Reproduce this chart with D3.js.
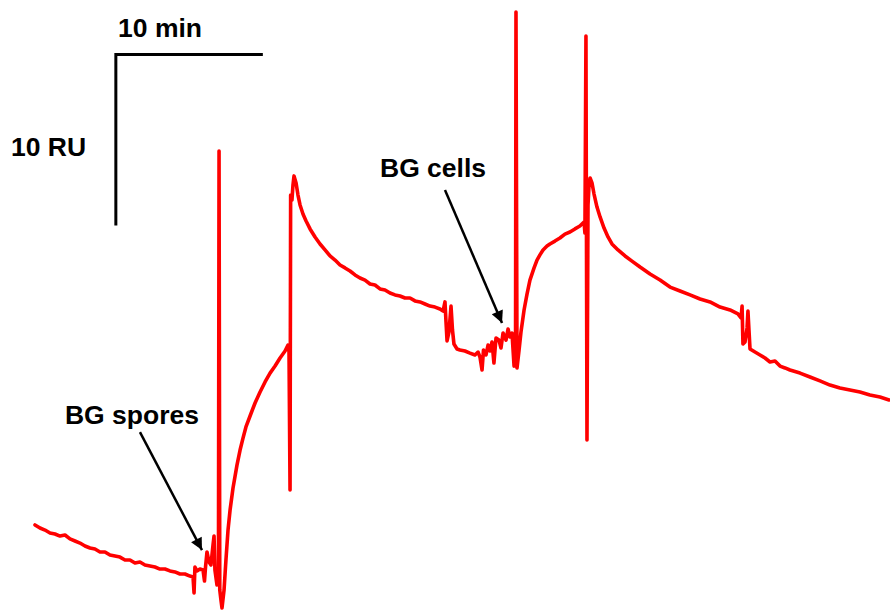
<!DOCTYPE html>
<html>
<head>
<meta charset="utf-8">
<script src="https://cdn.jsdelivr.net/npm/d3@7"></script>
<style>
	body { margin: 0; background: #fff; }
	svg { display: block; }
	.trace { fill: none; stroke: #ff0000; stroke-width: 3.6; stroke-linejoin: round; stroke-linecap: round; }
	.scalebar { fill: none; stroke: #000; stroke-width: 3; }
	.label { font-family: "Liberation Sans", Arial, sans-serif; font-weight: bold; font-size: 26.5px; fill: #000; }
	.arrow { stroke: #000; stroke-width: 2.5; }
</style>
</head>
<body>
<div id="chart"></div>
<script>
// sensorgram, time in minutes, response in RU (relative)
var timeMin = [
	0.00, 0.34, 0.68, 1.02, 1.36, 1.70, 2.04, 2.38, 2.72, 3.06, 3.40, 3.74, 4.08, 4.42, 4.76, 5.10,
	5.44, 5.78, 6.12, 6.46, 6.80, 7.14, 7.48, 7.82, 8.16, 8.50, 8.84, 9.18, 9.52, 9.86, 10.20, 10.54,
	10.75, 10.82, 10.88, 11.02, 11.22, 11.43, 11.53, 11.60, 11.70, 11.84, 11.97, 12.11, 12.18, 12.24,
	12.38, 12.48, 12.52, 12.57, 12.65, 12.72, 12.86, 12.99, 13.13, 13.27, 13.47, 13.74, 13.95, 14.15,
	14.35, 14.63, 14.97, 15.31, 15.65, 15.99, 16.33, 16.67, 17.01, 17.21, 17.28, 17.35, 17.39, 17.48,
	17.55, 17.62, 17.76, 17.89, 18.03, 18.23, 18.44, 18.71, 19.05, 19.39, 19.73, 20.07, 20.41, 20.75,
	21.09, 21.43, 21.77, 22.11, 22.45, 22.79, 23.13, 23.47, 23.81, 24.15, 24.49, 24.83, 25.17, 25.51,
	25.85, 26.19, 26.53, 26.87, 27.21, 27.55, 27.76, 27.89, 27.96, 28.03, 28.16, 28.30, 28.40, 28.50,
	28.71, 28.91, 29.25, 29.59, 29.93, 30.14, 30.27, 30.41, 30.51, 30.68, 30.82, 30.95, 31.09, 31.22,
	31.36, 31.56, 31.70, 31.84, 32.04, 32.18, 32.31, 32.45, 32.59, 32.69, 32.72, 32.79, 32.93, 33.06,
	33.27, 33.47, 33.67, 33.95, 34.15, 34.35, 34.56, 34.83, 35.03, 35.37, 35.71, 36.05, 36.39, 36.73,
	37.07, 37.35, 37.41, 37.48, 37.55, 37.62, 37.69, 37.76, 37.89, 38.03, 38.23, 38.44, 38.71, 38.98,
	39.25, 39.66, 40.14, 40.61, 41.16, 41.84, 42.52, 43.20, 43.88, 44.56, 45.24, 45.92, 46.60, 47.28,
	47.82, 48.03, 48.10, 48.16, 48.30, 48.44, 48.50, 48.57, 48.64, 48.98, 49.32, 49.66, 50.00, 50.34,
	50.68, 51.02, 51.36, 52.04, 52.72, 53.40, 54.08, 54.76, 55.44, 56.12, 56.80, 57.48, 58.10
];

var responseRU = [
	4.39, 4.21, 4.09, 3.92, 3.86, 3.74, 3.80, 3.57, 3.45, 3.33, 3.16, 3.04, 2.98, 2.81, 2.81, 2.63,
	2.57, 2.51, 2.34, 2.34, 2.16, 2.22, 2.05, 1.99, 1.93, 1.81, 1.81, 1.70, 1.64, 1.52, 1.52, 1.40,
	1.35, 0.41, 1.93, 1.70, 1.81, 1.75, 1.11, 1.93, 2.81, 2.22, 2.05, 3.22, 3.74, 1.75,
	0.88, 1.46, 26.26, 0.58, 0.00, -0.47, 0.58, 2.34, 4.09, 5.26, 6.55, 7.89, 8.77, 9.47,
	10.12, 10.76, 11.52, 12.16, 12.75, 13.27, 13.68, 14.15, 14.56, 14.91, 14.50, 6.43, 23.68, 23.39,
	24.27, 24.80, 24.39, 23.68, 23.10, 22.57, 22.16, 21.70, 21.23, 20.82, 20.47, 20.12, 19.88, 19.59,
	19.42, 19.24, 19.01, 18.83, 18.71, 18.48, 18.42, 18.19, 18.13, 17.95, 17.84, 17.78, 17.66, 17.66,
	17.49, 17.43, 17.31, 17.19, 17.13, 17.02, 16.90, 17.43, 16.26, 15.15, 15.67, 17.19, 15.79, 14.97,
	14.68, 14.62, 14.56, 14.44, 14.33, 14.50, 14.21, 13.45, 14.62, 14.33, 14.91, 14.56, 15.09, 13.86,
	15.32, 15.20, 14.74, 15.61, 15.20, 15.85, 15.38, 15.61, 13.68, 14.91, 34.39, 13.57, 14.62, 15.67,
	16.96, 17.89, 18.71, 19.42, 19.88, 20.18, 20.47, 20.70, 20.82, 20.99, 21.17, 21.40, 21.52, 21.70,
	21.87, 22.11, 21.46, 32.98, 9.36, 23.10, 24.27, 24.68, 24.39, 23.74, 22.98, 22.40, 21.75, 21.23,
	20.82, 20.47, 20.12, 19.82, 19.47, 19.06, 18.71, 18.30, 18.07, 17.84, 17.60, 17.43, 17.13, 16.96,
	16.73, 16.49, 17.19, 14.97, 15.09, 15.91, 16.90, 15.79, 14.68, 14.50, 14.33, 14.15, 13.92, 13.98,
	13.68, 13.57, 13.45, 13.27, 13.04, 12.81, 12.57, 12.40, 12.28, 12.16, 11.99, 11.87, 11.70
];

// scale bar: 10 min by 10 RU, corner at (5.5 min, 31.9 RU)
var scaleBarCorner = [5.5, 31.9];
var scaleBarMin = 10;
var scaleBarRU = 10;
var scaleBarLabels = ["10 min", "10 RU"];
var scaleBarLabelAt = [[5.65, 32.92], [-1.63, 25.96]];

// injection annotations
var annotationText = ["BG spores", "BG cells"];
var annotationTextAt = [[2.04, 10.29], [23.47, 24.74]];
var arrowFrom = [[7.14, 9.82], [27.89, 23.98]];
var arrowTo = [[11.36, 2.92], [31.77, 16.20]];

var width = 890, height = 610;

var x = d3.scaleLinear()
	.domain([0, 60])
	.range([35, 35 + 60 * 14.7]);

var y = d3.scaleLinear()
	.domain([0, 35])
	.range([600, 600 - 35 * 17.1]);

var svg = d3.select("#chart").append("svg")
	.attr("width", width)
	.attr("height", height);

var data = timeMin.map(function(t, i) {
	return { t: t, ru: responseRU[i] };
});

var line = d3.line()
	.x(function(d) { return x(d.t); })
	.y(function(d) { return y(d.ru); });

svg.append("path")
	.datum(data)
	.attr("class", "trace")
	.attr("d", line);

// scale bar
svg.append("path")
	.attr("class", "scalebar")
	.attr("d", d3.line()([
		[x(scaleBarCorner[0] + scaleBarMin), y(scaleBarCorner[1])],
		[x(scaleBarCorner[0]), y(scaleBarCorner[1])],
		[x(scaleBarCorner[0]), y(scaleBarCorner[1] - scaleBarRU)]
	]));

svg.selectAll("text.sb")
	.data(scaleBarLabels)
	.enter()
	.append("text")
		.attr("class", "label sb")
		.attr("x", function(d, i) { return x(scaleBarLabelAt[i][0]); })
		.attr("y", function(d, i) { return y(scaleBarLabelAt[i][1]); })
		.text(function(d) { return d; });

// arrows
svg.append("defs").append("marker")
	.attr("id", "head")
	.attr("viewBox", "0 0 10 10")
	.attr("refX", 10)
	.attr("refY", 5)
	.attr("markerWidth", 6)
	.attr("markerHeight", 4.8)
	.attr("markerUnits", "strokeWidth")
	.attr("orient", "auto")
	.append("path")
		.attr("d", "M0,0L10,5L0,10z")
		.attr("fill", "#000");

svg.selectAll("line.arrow")
	.data(annotationText)
	.enter()
	.append("line")
		.attr("class", "arrow")
		.attr("x1", function(d, i) { return x(arrowFrom[i][0]); })
		.attr("y1", function(d, i) { return y(arrowFrom[i][1]); })
		.attr("x2", function(d, i) { return x(arrowTo[i][0]); })
		.attr("y2", function(d, i) { return y(arrowTo[i][1]); })
		.attr("marker-end", "url(#head)");

svg.selectAll("text.ann")
	.data(annotationText)
	.enter()
	.append("text")
		.attr("class", "label ann")
		.attr("x", function(d, i) { return x(annotationTextAt[i][0]); })
		.attr("y", function(d, i) { return y(annotationTextAt[i][1]); })
		.text(function(d) { return d; });
</script>
</body>
</html>
